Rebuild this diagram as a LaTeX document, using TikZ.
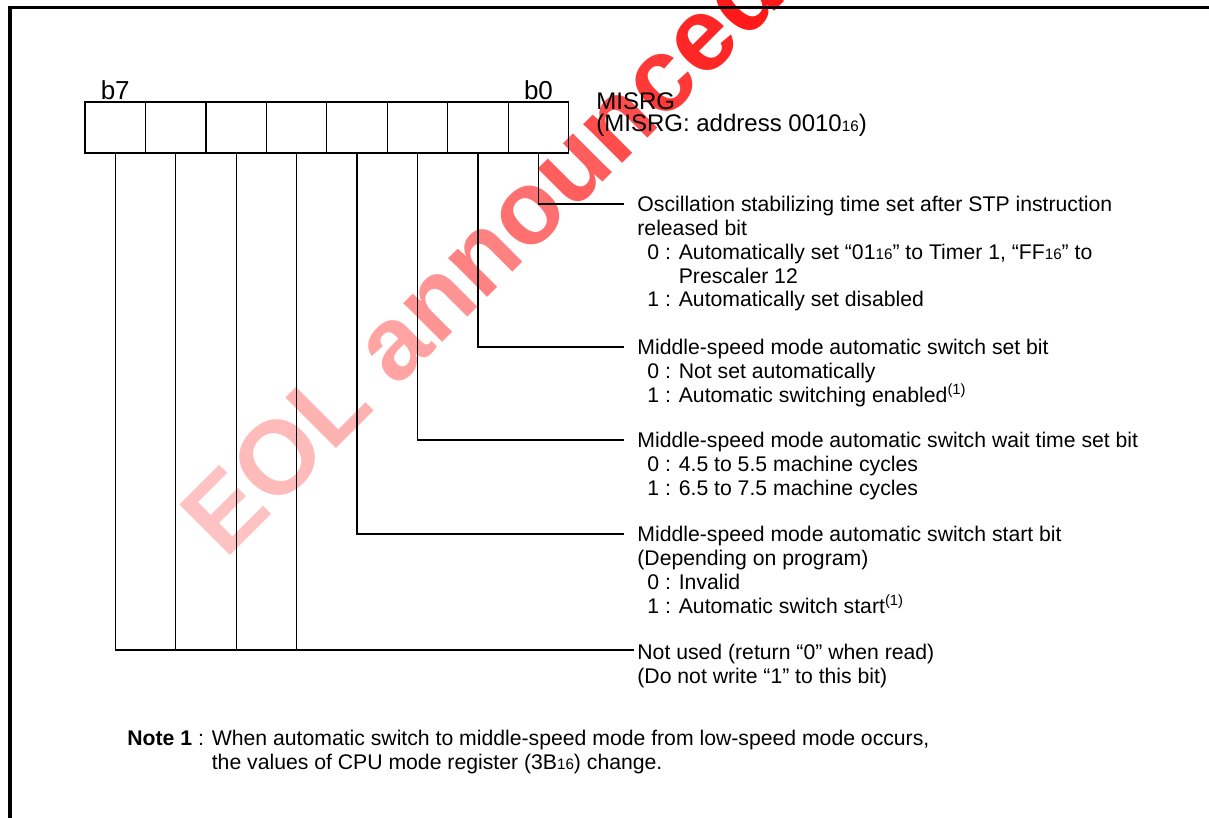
\documentclass[tikz,border=0pt]{standalone}
\usepackage{fontspec}
\setmainfont{Liberation Sans}
\usetikzlibrary{positioning}

\newcommand{\sixteen}{{\fontsize{7.6}{8}\selectfont 16}}
\newcommand{\noteref}{\textsuperscript{(1)}}
\newcommand{\bitopt}[1]{\hspace*{5pt}#1}
\newcommand{\bitcont}{\hspace*{5pt}\phantom{0 : }}
\newcommand{\wm}[2]{\textcolor{red!#1!white}{#2}}

\tikzset{
  cell/.style={draw, line width=0.6pt, minimum width=30.23pt, minimum height=25.5pt, inner sep=0pt},
  bitlbl/.style={font=\fontsize{13}{14}\selectfont, inner sep=0pt, anchor=base},
  desc/.style={anchor=north west, align=left, inner sep=0pt, font=\fontsize{10.6}{11.85}\selectfont},
  leader/.style={line width=0.6pt},
}

\begin{document}
\begin{tikzpicture}[x=0.5pt, y=-0.5pt]
    \useasboundingbox (0,0) rectangle (1209,818);

    % Watermark
    \node[rotate=45, font=\fontsize{52}{56}\selectfont\bfseries] (eol) at (481,252)
        {\wm{24}{E}\wm{27}{O}\wm{30}{L} \wm{36}{a}\wm{42}{n}\wm{49}{n}\wm{56}{o}\wm{63}{u}\wm{70}{n}\wm{78}{c}\wm{85}{e}\wm{90}{d}};

    % Frame
    \draw[line width=1.65pt] (10,822) -- (10,7.7) -- (1213,7.7);

    % Register cells, b7 on the left
    \foreach \i in {0,...,7}
        \node[cell] (c\i) at ({568.7-60.46*(\i+0.5)},127.5) {};
    \node[bitlbl] (b7) at ([yshift=1pt]c7.north) {b7};
    \node[bitlbl] (b0) at ([yshift=1pt]c0.north) {b0};

    % Register name
    \node[desc, font=\fontsize{12}{11}\selectfont] (name) at (596,92) {MISRG\\(MISRG: address 0010\sixteen)};

    % Leader ends
    \coordinate (e0) at (624,204);
    \coordinate (e1) at (624,347);
    \coordinate (e2) at (624,440);
    \coordinate (e3) at (624,534);
    \coordinate (e4) at (634,650);

    % Bit descriptions
    \node[desc] (d0) at (637,195) {\strut Oscillation stabilizing time set after STP instruction\\
        released bit\\
        \bitopt{0 : Automatically set “01\sixteen” to Timer 1, “FF\sixteen” to}\\
        \bitcont Prescaler 12\\
        \bitopt{1 : Automatically set disabled}};
    \node[desc] (d1) at (637,338) {\strut Middle-speed mode automatic switch set bit\\
        \bitopt{0 : Not set automatically}\\
        \bitopt{1 : Automatic switching enabled\noteref}};
    \node[desc] (d2) at (637,431) {\strut Middle-speed mode automatic switch wait time set bit\\
        \bitopt{0 : 4.5 to 5.5 machine cycles}\\
        \bitopt{1 : 6.5 to 7.5 machine cycles}};
    \node[desc] (d3) at (637,525) {\strut Middle-speed mode automatic switch start bit\\
        (Depending on program)\\
        \bitopt{0 : Invalid}\\
        \bitopt{1 : Automatic switch start\noteref}};
    \node[desc] (d4) at (637,643) {\strut Not used (return “0” when read)\\
        (Do not write “1” to this bit)};

    % Leaders
    \foreach \i in {0,...,3}
        \draw[leader] (c\i.south) |- (e\i);
    \draw[leader] (c7.south) |- (e4);
    \foreach \i in {4,5,6}
        \draw[leader] (c\i.south) -- (c\i.south |- e4);

    % Note
    \node[desc] (note) at (127,729) {\strut\textbf{Note 1} : When automatic switch to middle-speed mode from low-speed mode occurs,\\
        \phantom{\textbf{Note 1} : }the values of CPU mode register (3B\sixteen) change.};
\end{tikzpicture}
\end{document}
